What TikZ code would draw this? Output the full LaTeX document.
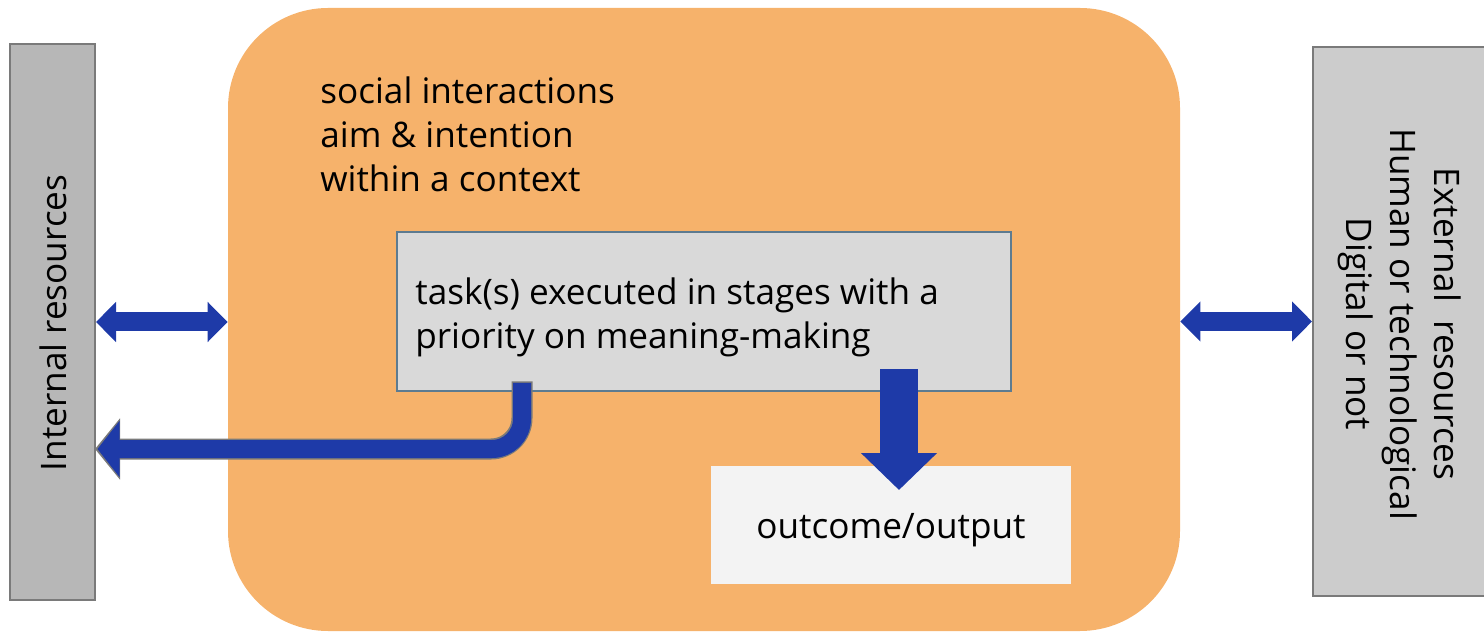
\documentclass[tikz,border=0pt]{standalone}
\usepackage{fontspec}
\setmainfont{Open Sans}
\usetikzlibrary{arrows.meta}

\definecolor{slideorange}{HTML}{F6B26B}
\definecolor{leftgray}{HTML}{B7B7B7}
\definecolor{rightgray}{HTML}{CCCCCC}
\definecolor{edgegray}{HTML}{7A7A7A}
\definecolor{taskgray}{HTML}{D9D9D9}
\definecolor{taskedge}{HTML}{5D7B90}
\definecolor{outgray}{HTML}{F3F3F3}
\definecolor{arrowblue}{HTML}{1E3AA8}

\begin{document}
\begin{tikzpicture}[
  resbox/.style={draw=edgegray, line width=0.04cm, inner sep=0pt},
  bigtext/.style={font=\fontsize{20}{25}\selectfont, inner sep=0pt},
  dblarrow/.style={draw=arrowblue, line width=0.38cm,
    {Triangle[length=0.4cm,width=0.78cm]}-{Triangle[length=0.4cm,width=0.78cm]}},
]
\useasboundingbox (0,0) rectangle (29.68,12.64);

\node[fill=slideorange, rounded corners=2cm, minimum width=19.04cm, minimum height=12.46cm, inner sep=0pt] (orange) at (14.08,6.25) {};

\node[resbox, fill=leftgray, minimum width=1.7cm, minimum height=11.12cm] (internal) at (1.05,6.2) {};
\node[bigtext, rotate=90] (internallabel) at (1.06,6.18) {Internal resources};

\node[resbox, fill=rightgray, minimum width=3.64cm, minimum height=10.98cm] (external) at (28.08,6.21) {};
\node[bigtext, rotate=-90, align=center] (externallabel) at (28.0,6.16) {External~ resources\\Human or technological\\Digital or not};

\node[bigtext, anchor=west, align=left] (context) at (6.4,9.96) {social interactions\\aim \& intention\\within a context};

\node[draw=taskedge, line width=0.03cm, fill=taskgray, minimum width=12.28cm, minimum height=3.18cm, inner sep=0pt] (task) at (14.08,6.41) {};
\node[bigtext, anchor=west, align=left] (tasklabel) at (8.3,6.3) {task(s) executed in stages with a\\priority on meaning-making};

\node[fill=outgray, minimum width=7.2cm, minimum height=2.36cm, inner sep=0pt] (outcome) at (17.82,2.14) {};
\node[bigtext] (outcomelabel) at (17.82,2.04) {outcome/output};

% arrows to the resources
\draw[dblarrow] (internal.east) -- (internal.east -| orange.west);
\draw[dblarrow] (orange.east |- external.west) -- (external.west);

% task down to outcome
\coordinate (downstart) at (17.98,5.26);
\coordinate (downend) at (17.98,2.84);
\draw[draw=arrowblue, line width=0.76cm, -{Triangle[length=0.74cm,width=1.48cm]}] (downstart) -- (downend);

% task back to internal resources
\coordinate (bendstart) at (10.44,4.98);
\coordinate (bendend) at (1.9,3.66);
\draw[draw=edgegray, line width=0.42cm, rounded corners=0.62cm, -{Triangle[length=0.5cm,width=1.2cm]}]
  ([yshift=0.03cm]bendstart) |- (bendend);
\draw[draw=arrowblue, line width=0.36cm, rounded corners=0.6cm, -{Triangle[length=0.44cm,width=1.1cm]}]
  (bendstart) |- ([xshift=0.05cm]bendend);
\end{tikzpicture}
\end{document}
